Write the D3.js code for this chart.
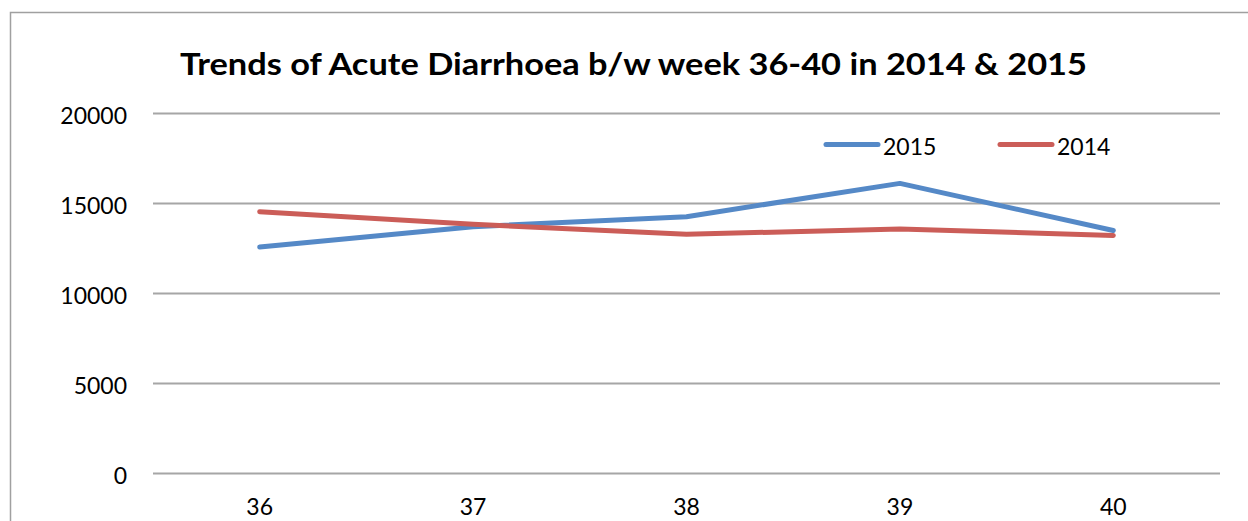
<!DOCTYPE html>
<html>
<head>
<meta charset="utf-8">
<script src="https://cdn.jsdelivr.net/npm/d3@7"></script>
<style>
  html, body { margin: 0; padding: 0; background: #fff; }
  svg { display: block; }
</style>
</head>
<body>
<svg id="chart" width="1248" height="521"></svg>
<script>
const title = "Trends of Acute Diarrhoea b/w week 36-40 in 2014 & 2015";
const weeks = ["36", "37", "38", "39", "40"];
const series2015 = [12550, 13680, 14240, 16090, 13470];
const series2014 = [14520, 13820, 13260, 13560, 13200];
const yTicks = [0, 5000, 10000, 15000, 20000];
const seriesNames = ["2015", "2014"];
const seriesColors = ["#5589C7", "#CB5D58"];

(function () {
const svg = d3.select("#chart");
const font = "Lato, 'Open Sans', sans-serif";

// outer chart frame
svg.append("rect")
  .attr("x", 10.5).attr("y", 12.5)
  .attr("width", 1300).attr("height", 600)
  .attr("fill", "none").attr("stroke", "#a0a0a0").attr("stroke-width", 1.5);

const mLeft = 153, mRight = 1220, mTop = 113, mBottom = 473;

const x = d3.scaleBand().domain(weeks).range([mLeft, mRight]);
const y = d3.scaleLinear().domain([0, 20000]).range([mBottom, mTop]);

// gridlines
svg.append("g").selectAll("line").data(yTicks).join("line")
  .attr("x1", mLeft).attr("x2", mRight)
  .attr("y1", d => Math.round(y(d)) + 0.5).attr("y2", d => Math.round(y(d)) + 0.5)
  .attr("stroke", "#a6a6a6").attr("stroke-width", 2);

// y axis labels
const yAxis = d3.axisLeft(y).tickValues(yTicks).tickSize(0).tickPadding(26).tickFormat(d3.format("d"));
const ya = svg.append("g").attr("transform", `translate(${mLeft},0)`).call(yAxis);
ya.select(".domain").remove();
ya.selectAll("text")
  .attr("font-family", font).attr("font-size", 23).attr("fill", "#000")
  .attr("dy", "0.45em");

// x axis labels
const xAxis = d3.axisBottom(x).tickSize(0).tickPadding(28);
const xa = svg.append("g").attr("transform", `translate(0,${mBottom})`).call(xAxis);
xa.select(".domain").remove();
xa.selectAll("text")
  .attr("font-family", font).attr("font-size", 23).attr("fill", "#000")
  .attr("dy", "0.62em");

// lines
const line = d3.line()
  .x((d, i) => x(weeks[i]) + x.bandwidth() / 2)
  .y(d => y(d));

[series2015, series2014].forEach((s, k) => {
  svg.append("path")
    .datum(s)
    .attr("d", line)
    .attr("fill", "none")
    .attr("stroke", seriesColors[k])
    .attr("stroke-width", 5)
    .attr("stroke-linecap", "round")
    .attr("stroke-linejoin", "round");
});

// legend
const legendX = [826, 1000];
seriesNames.forEach((name, k) => {
  const g = svg.append("g").attr("transform", `translate(${legendX[k]},144.5)`);
  g.append("line").attr("x1", 0).attr("x2", 52).attr("y1", 0).attr("y2", 0)
    .attr("stroke", seriesColors[k]).attr("stroke-width", 5).attr("stroke-linecap", "round");
  g.append("text").attr("x", 57).attr("y", 10)
    .attr("font-family", font).attr("font-size", 23).attr("fill", "#000")
    .text(name);
});

// title
svg.append("text")
  .attr("x", 633.5).attr("y", 75)
  .attr("text-anchor", "middle")
  .attr("font-family", font).attr("font-size", 31).attr("font-weight", "bold")
  .attr("fill", "#000")
  .attr("textLength", 907).attr("lengthAdjust", "spacingAndGlyphs")
  .text(title);
})();
</script>
</body>
</html>
